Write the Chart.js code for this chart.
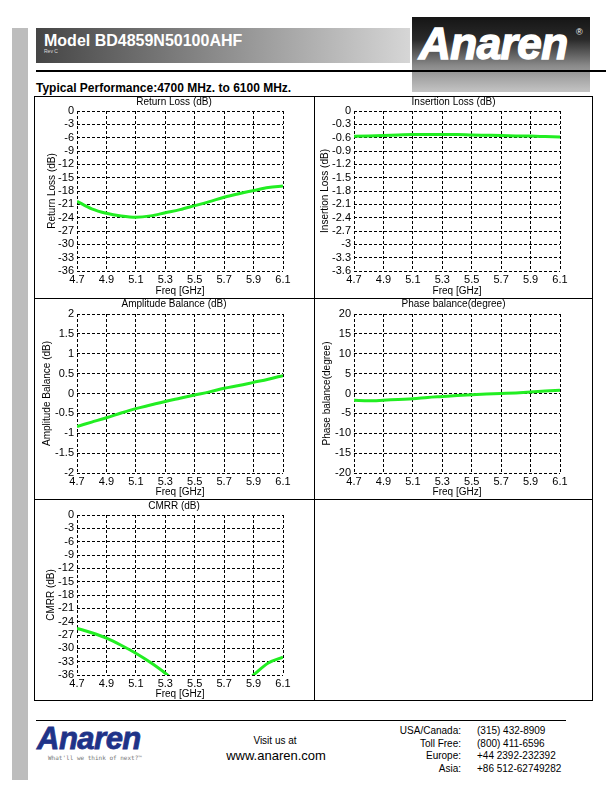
<!DOCTYPE html>
<html><head><meta charset="utf-8">
<script src="https://cdn.jsdelivr.net/npm/chart.js@4.4.1/dist/chart.umd.min.js"></script>
<style>
html,body{margin:0;padding:0;background:#fff;}
#page{position:relative;width:612px;height:792px;overflow:hidden;font-family:"Liberation Sans",Arial,sans-serif;background:#fff;}
.a{position:absolute;white-space:nowrap;}
canvas{position:absolute;}
</style></head><body><div id="page">
<div class="a" style="left:12px;top:28px;width:16px;height:752px;background:#bdbdbd"></div>
<div class="a" style="left:36px;top:28px;width:374px;height:35px;background:linear-gradient(to right,#454545,#d6d6d6)">
  <div class="a" style="left:8px;top:4px;font-weight:bold;font-size:16px;line-height:18px;color:#fff">Model BD4859N50100AHF</div>
  <div class="a" style="left:8px;top:20px;font-size:5px;line-height:6px;color:#ddd">Rev C</div>
</div>
<div class="a" style="left:412px;top:17px;width:178px;height:75px;background:linear-gradient(to bottom,#151515 0%,#2a2a2a 30%,#8a8a8a 65%,#c4c4c4 100%)">
  <div class="a" style="left:7px;top:2px;font-weight:bold;font-style:italic;font-size:44px;line-height:50px;color:#fff;letter-spacing:-0.5px;-webkit-text-stroke:1.5px #fff">Anaren</div>
  <div class="a" style="left:164px;top:10px;font-size:9px;line-height:10px;color:#fff">®</div>
</div>
<div class="a" style="left:36px;top:70px;width:570px;height:2px;background:#000"></div>
<div class="a" style="left:36px;top:81px;font-weight:bold;font-size:12px;line-height:14px;color:#000">Typical Performance:4700 MHz. to 6100 MHz.</div>

<div class="a" style="left:34px;top:96px;width:559px;height:605px;border:1px solid #000;box-sizing:border-box"></div>
<div class="a" style="left:314px;top:96px;width:1px;height:605px;background:#000"></div>
<div class="a" style="left:34px;top:298px;width:559px;height:1px;background:#000"></div>
<div class="a" style="left:34px;top:499px;width:559px;height:1px;background:#000"></div>

<canvas id="c1" width="280" height="203" style="left:34px;top:95px;width:280px;height:203px"></canvas>
<canvas id="c2" width="279" height="203" style="left:314px;top:95px;width:279px;height:203px"></canvas>
<canvas id="c3" width="280" height="202" style="left:34px;top:297px;width:280px;height:202px"></canvas>
<canvas id="c4" width="279" height="202" style="left:314px;top:297px;width:279px;height:202px"></canvas>
<canvas id="c5" width="280" height="202" style="left:34px;top:499px;width:280px;height:202px"></canvas>

<div class="a" style="left:36px;top:720px;width:530px;height:1px;background:#000"></div>
<div class="a" style="left:37px;top:722px;font-weight:bold;font-style:italic;font-size:31px;line-height:34px;color:#1f3388;letter-spacing:-0.5px;-webkit-text-stroke:0.8px #1f3388">Anaren</div>
<div class="a" style="left:48px;top:754px;font-family:'DejaVu Sans Mono',monospace;font-size:6px;line-height:7px;color:#777">What'll we think of next?™</div>
<div class="a" style="left:250px;top:735px;width:50px;text-align:center;font-size:10px;line-height:12px;color:#000">Visit us at</div>
<div class="a" style="left:226px;top:748px;width:100px;text-align:center;font-size:13px;line-height:15px;color:#000">www.anaren.com</div>
<div class="a" style="left:380px;top:725px;width:81px;text-align:right;font-size:10px;line-height:12.7px;color:#000">USA/Canada:<br>Toll Free:<br>Europe:<br>Asia:</div>
<div class="a" style="left:477px;top:725px;font-size:10px;line-height:12.7px;color:#000">(315) 432-8909<br>(800) 411-6596<br>+44 2392-232392<br>+86 512-62749282</div>
</div>
<script>
const freq = [4.7, 4.8, 4.9, 5.0, 5.1, 5.2, 5.3, 5.4, 5.5, 5.6, 5.7, 5.8, 5.9, 6.0, 6.1];
const freqTicks = [4.7, 4.9, 5.1, 5.3, 5.5, 5.7, 5.9, 6.1];

const returnLoss = [-20.3, -22.0, -23.0, -23.6, -23.9, -23.6, -22.9, -22.2, -21.3, -20.4, -19.4, -18.6, -17.9, -17.2, -16.9];
const insertionLoss = [-0.57, -0.56, -0.55, -0.54, -0.53, -0.53, -0.53, -0.53, -0.54, -0.545, -0.55, -0.56, -0.565, -0.575, -0.585];
const amplitudeBalance = [-0.83, -0.72, -0.61, -0.49, -0.38, -0.29, -0.20, -0.12, -0.04, 0.04, 0.13, 0.20, 0.28, 0.36, 0.45];
const phaseBalance = [-1.7, -1.85, -1.7, -1.5, -1.35, -1.0, -0.75, -0.5, -0.3, -0.15, 0.0, 0.15, 0.35, 0.6, 0.8];
const cmrr = [-25.5, -26.5, -27.7, -29.3, -31.1, -33.2, -35.6, -38.5, -41.0, -43.0, -42.0, -39.0, -36.0, -33.3, -32.0];

const rlTicks = [0, -3, -6, -9, -12, -15, -18, -21, -24, -27, -30, -33, -36];
const ilTicks = [0, -0.3, -0.6, -0.9, -1.2, -1.5, -1.8, -2.1, -2.4, -2.7, -3, -3.3, -3.6];
const abTicks = [2, 1.5, 1, 0.5, 0, -0.5, -1, -1.5, -2];
const pbTicks = [20, 15, 10, 5, 0, -5, -10, -15, -20];
const cmrrTicks = [0, -3, -6, -9, -12, -15, -18, -21, -24, -27, -30, -33, -36];

const fam = '"Liberation Sans", Arial, sans-serif';
const fmt = v => String(Math.round(v * 100) / 100);

function panel(id, o) {
  const gridOpt = {color: '#000', lineWidth: 1, drawTicks: false};
  const borderOpt = {display: false, dash: [3, 2]};
  new Chart(document.getElementById(id), {
    type: 'line',
    data: {datasets: [{
      data: freq.map((f, i) => ({x: f, y: o.values[i]})),
      borderColor: '#22ee22', borderWidth: 3, pointRadius: 0,
      cubicInterpolationMode: 'monotone', fill: false
    }]},
    options: {
      responsive: false, animation: false, devicePixelRatio: 1,
      layout: {padding: 0},
      plugins: {
        legend: {display: false}, tooltip: {enabled: false},
        title: {display: true, text: o.title, color: '#000',
          font: {family: fam, size: 10, lineHeight: 1, weight: 'normal'},
          padding: {top: 2, bottom: o.titleGap - 2}}
      },
      scales: {
        x: {type: 'linear', min: 4.7, max: 6.1,
          afterBuildTicks: s => { s.ticks = freqTicks.map(v => ({value: v})); },
          ticks: {autoSkip: false, maxRotation: 0, padding: 2, color: '#000', font: {family: fam, size: 11}, callback: v => fmt(v)},
          grid: gridOpt, border: borderOpt,
          title: {display: true, text: 'Freq [GHz]', color: '#000', font: {family: fam, size: 10}, padding: {top: 0, bottom: 1}},
          afterFit: s => { s.height = o.xH; }
        },
        y: {type: 'linear', position: 'left', min: o.min, max: o.max,
          afterBuildTicks: s => { s.ticks = o.ticks.map(v => ({value: v})); },
          ticks: {autoSkip: false, padding: 3, color: '#000', font: {family: fam, size: 11}, callback: v => fmt(v)},
          grid: gridOpt, border: borderOpt,
          title: {display: true, text: o.ylabel, color: '#000', font: {family: fam, size: 10}, padding: {top: o.yPad, bottom: 0}},
          afterFit: s => { s.width = o.leftW; }
        },
        r: {type: 'linear', position: 'right', display: true,
          grid: {display: false}, ticks: {display: false}, border: {display: false},
          afterFit: s => { s.width = o.rightW; }
        }
      }
    }
  });
}

panel('c1', {values: returnLoss, ticks: rlTicks, min: -36, max: 0, title: 'Return Loss (dB)', ylabel: 'Return Loss (dB)', titleGap: 6, xH: 27, leftW: 43, rightW: 31, yPad: 12});
panel('c2', {values: insertionLoss, ticks: ilTicks, min: -3.6, max: 0, title: 'Insertion Loss (dB)', ylabel: 'Insertion Loss (dB)', titleGap: 6, xH: 27, leftW: 40, rightW: 33, yPad: 5});
panel('c3', {values: amplitudeBalance, ticks: abTicks, min: -2, max: 2, title: 'Amplitude Balance (dB)', ylabel: 'Amplitude Balance (dB)', titleGap: 7, xH: 26, leftW: 43, rightW: 31, yPad: 7});
panel('c4', {values: phaseBalance, ticks: pbTicks, min: -20, max: 20, title: 'Phase balance(degree)', ylabel: 'Phase balance(degree)', titleGap: 7, xH: 26, leftW: 40, rightW: 33, yPad: 7});
panel('c5', {values: cmrr, ticks: cmrrTicks, min: -36, max: 0, title: 'CMRR (dB)', ylabel: 'CMRR (dB)', titleGap: 6, xH: 26, leftW: 43, rightW: 31, yPad: 11});
</script>
</body></html>
